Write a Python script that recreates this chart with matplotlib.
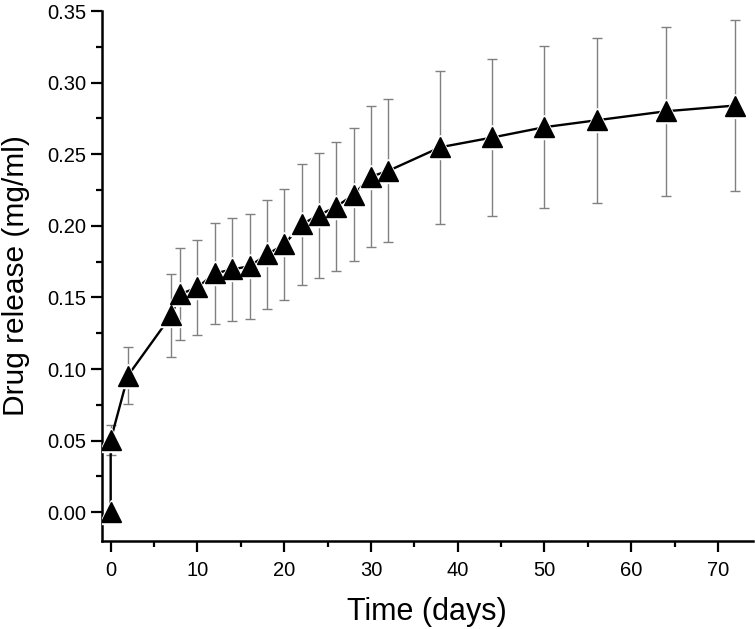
import matplotlib
matplotlib.use("Agg")
import matplotlib.pyplot as plt
from matplotlib.ticker import MultipleLocator, FormatStrFormatter

time_days = [0, 0, 2, 7, 8, 10, 12, 14, 16, 18, 20, 22, 24, 26, 28, 30, 32, 38, 44, 50, 56, 64, 72]
release = [0.000, 0.0505, 0.0955, 0.1376, 0.1523, 0.157, 0.1668, 0.1696, 0.1718, 0.180, 0.187,
           0.201, 0.2075, 0.2134, 0.2218, 0.2344, 0.2384, 0.2549, 0.2617, 0.2689, 0.2737, 0.280, 0.284]
release_err = [0.0, 0.0105, 0.020, 0.029, 0.032, 0.033, 0.0355, 0.036, 0.0365, 0.038, 0.039,
               0.0425, 0.0437, 0.045, 0.0466, 0.049, 0.050, 0.0533, 0.055, 0.0566, 0.0575, 0.0589, 0.0596]

plt.rcParams['font.family'] = ['Liberation Sans', 'DejaVu Sans']

fig = plt.figure(figsize=(7.55, 6.29), dpi=100)
ax = fig.add_axes([0.1351, 0.1400, 0.8619, 0.8425])

ax.errorbar(time_days, release, yerr=release_err, fmt='none', ecolor='#808080',
            elinewidth=1.0, capsize=3.8, capthick=1.0, zorder=1)
ax.plot(time_days, release, '-', color='black', lw=1.7, zorder=2)
ax.plot(time_days, release, '^', ms=17.5, color='white', mec='white', ls='none', zorder=3)
ax.plot(time_days, release, '^', ms=14.5, color='black', mec='black', ls='none', zorder=4)

ax.set_xlim(-1, 74)
ax.set_ylim(-0.02, 0.35)
ax.spines['top'].set_visible(False)
ax.spines['right'].set_visible(False)
for s in ('left', 'bottom'):
    ax.spines[s].set_linewidth(1.8)

ax.xaxis.set_major_locator(MultipleLocator(10))
ax.xaxis.set_minor_locator(MultipleLocator(5))
ax.yaxis.set_major_locator(MultipleLocator(0.05))
ax.yaxis.set_minor_locator(MultipleLocator(0.025))
ax.yaxis.set_major_formatter(FormatStrFormatter('%.2f'))
ax.tick_params(which='major', direction='out', length=8, width=1.6, labelsize=14.5, pad=3.5)
ax.tick_params(which='minor', direction='out', length=4.5, width=1.6)
ax.tick_params(axis='x', which='major', pad=6.5)

ax.set_xlabel('Time (days)', fontsize=22, labelpad=12)
ax.set_ylabel('Drug release (mg/ml)', fontsize=21.5, labelpad=12)

fig.savefig('out.png', dpi=100)
